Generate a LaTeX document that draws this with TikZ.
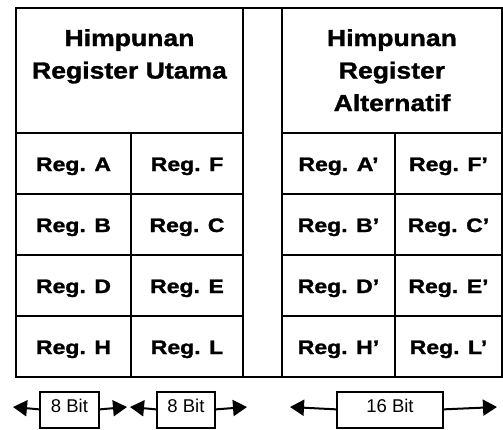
\documentclass[tikz,border=0pt]{standalone}
\usepackage{fontspec}
\usepackage{graphicx}
\setmainfont{Liberation Sans}[BoldFeatures={FakeBold=1.2}]
\newcommand\hwide[1]{\scalebox{1.14}[1]{#1}}
\newcommand\cwide[1]{\scalebox{1.18}[1]{#1}}
\usetikzlibrary{arrows.meta}

\begin{document}
\begin{tikzpicture}[x=1pt,y=-1pt,
		frame/.style={line width=2.5pt},
		grid/.style={line width=2.3pt},
		hdr/.style={anchor=north,inner sep=0pt,align=center,font=\bfseries\fontsize{23.3}{32.5}\selectfont},
		reg/.style={anchor=base,inner sep=0pt,font=\bfseries\fontsize{19.5}{22}\selectfont},
		bitbox/.style={draw,line width=1.6pt,inner xsep=0pt,inner ysep=0pt,text height=20pt,text depth=16pt,font=\fontsize{18.5}{20}\selectfont},
		bitarrow/.style={-{Triangle[length=14pt,width=16pt]},line width=2pt}]
	\useasboundingbox (0,0) rectangle (503,429);
	%% frame and grid
	\draw[frame] (16,8) rectangle (502,377);
	\draw[frame] (243,8) -- (243,377) (282,8) -- (282,377);
	\foreach \y in {133,194,255,316} {
		\draw[grid] (16,\y) -- (243,\y) (282,\y) -- (502,\y);
	}
	\draw[grid] (131,133) -- (131,377) (395,133) -- (395,377);
	%% headers
	\node[hdr] (utama) at (129.5,29) {\hwide{Himpunan}\\\hwide{Register Utama}};
	\node[hdr] (alt) at (392,29) {\hwide{Himpunan}\\\hwide{Register}\\\hwide{Alternatif}};
	%% registers
	\foreach \l/\r [count=\i] in {A/F,B/C,D/E,H/L} {
		\pgfmathsetmacro\yb{110+61*\i}
		\node[reg] (u\l) at (73.5,\yb) {\cwide{Reg. \l}};
		\node[reg] (u\r) at (187,\yb) {\cwide{Reg. \r}};
		\node[reg] (a\l) at (338.5,\yb) {\cwide{Reg. \l’}};
		\node[reg] (a\r) at (448.5,\yb) {\cwide{Reg. \r’}};
	}
	%% bit widths
	\node[bitbox,minimum width=59pt] (bitH) at (69.5,410) {8 Bit};
	\node[bitbox,minimum width=58pt] (bitL) at (186,410) {8 Bit};
	\node[bitbox,minimum width=106pt] (bitHL) at (390,410) {16 Bit};
	\coordinate (tHl) at (13,407);
	\coordinate (tHr) at (127,407);
	\coordinate (tLl) at (130,407);
	\coordinate (tLr) at (247,407);
	\coordinate (tHLl) at (290,407);
	\coordinate (tHLr) at (497,407);
	\draw[bitarrow] (bitH.mid west) -- (tHl);
	\draw[bitarrow] (bitH.mid east) -- (tHr);
	\draw[bitarrow] (bitL.mid west) -- (tLl);
	\draw[bitarrow] (bitL.mid east) -- (tLr);
	\draw[bitarrow] (bitHL.mid west) -- (tHLl);
	\draw[bitarrow] (bitHL.mid east) -- (tHLr);
\end{tikzpicture}
\end{document}
